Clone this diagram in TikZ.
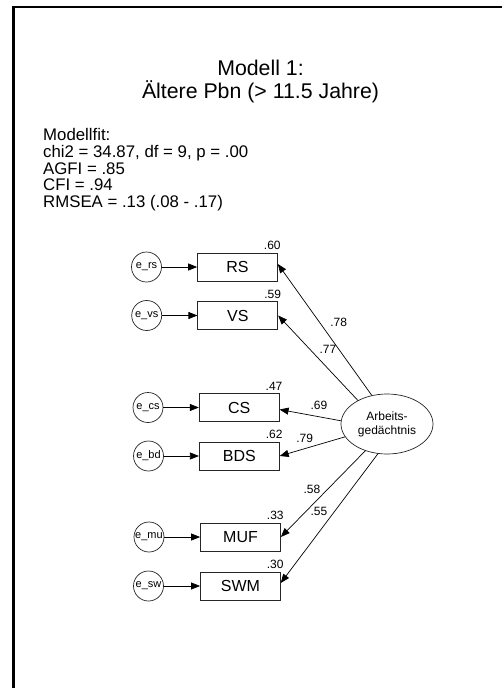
\documentclass[tikz,border=0pt]{standalone}
\usepackage{fontspec}
\setmainfont{Liberation Sans}
\usetikzlibrary{arrows.meta,shapes.geometric}
\begin{document}
\begin{tikzpicture}[x=1pt,y=-1pt,
  obs/.style={draw=black!85,line width=0.7pt,minimum width=80pt,minimum height=28pt,inner sep=0pt,font=\fontsize{16}{18}\selectfont},
  err/.style={draw=black!85,line width=0.7pt,circle,minimum size=30pt,inner sep=0pt,font=\fontsize{11}{12}\selectfont},
  lat/.style={draw=black!85,line width=0.7pt,ellipse,minimum width=92pt,minimum height=60pt,inner sep=0pt,align=center,font=\fontsize{12}{14}\selectfont},
  conn/.style={line width=0.7pt,-{Triangle[length=9pt,width=7pt]}},
  val/.style={inner sep=0pt,font=\fontsize{12}{14}\selectfont},
  fit/.style={inner sep=0pt,anchor=base west,font=\fontsize{16.8}{18}\selectfont},
  ttl/.style={inner sep=0pt,anchor=base,font=\fontsize{21.3}{24}\selectfont}
]
\useasboundingbox (0,0) rectangle (502,688);
\fill[white] (0,0) rectangle (502,688);
\draw[line width=2.5pt] (13.5,689) -- (13.5,7) -- (503,7);

% title
\node[ttl] (t1) at (260.5,75.7) {Modell 1:};
\node[ttl] (t2) at (260.5,98.3) {Ältere Pbn (> 11.5 Jahre)};

% fit
\node[fit] (f1) at (43,140.7) {Modellfit:};
\node[fit] (f2) at (43,157.4) {chi2 = 34.87, df = 9, p = .00};
\node[fit] (f3) at (43,174.1) {AGFI = .85};
\node[fit] (f4) at (43,190.8) {CFI = .94};
\node[fit] (f5) at (43,207.5) {RMSEA = .13 (.08 - .17)};

% observed
\node[obs] (rs) at (237.5,267) {RS};
\node[obs] (vs) at (237.8,315.5) {VS};
\node[obs] (cs) at (239.2,407.5) {CS};
\node[obs] (bds) at (239.3,456) {BDS};
\node[obs] (muf) at (240.5,537) {MUF};
\node[obs] (swm) at (240.4,586) {SWM};

% errors
\node[err] (ers) at (146.5,267) {e\_rs};
\node[err] (evs) at (146.7,315.5) {e\_vs};
\node[err] (ecs) at (148,407.5) {e\_cs};
\node[err] (ebd) at (148.5,456) {e\_bd};
\node[err] (emu) at (149,537) {e\_mu};
\node[err] (esw) at (148.5,586) {e\_sw};

% latent
\node[lat] (ag) at (387,424) {Arbeits-\\gedächtnis};

% error paths
\draw[conn] (ers) -- (rs);
\draw[conn] (evs) -- (vs);
\draw[conn] (ecs) -- (cs);
\draw[conn] (ebd) -- (bds);
\draw[conn] (emu) -- (muf);
\draw[conn] (esw) -- (swm);

% loadings
\draw[conn] (ag.118) -- ([yshift=3pt]rs.east);
\draw[conn] (ag.141) -- (vs.east);
\draw[conn] (ag.176) -- ([yshift=-2pt]cs.east);
\draw[conn] (ag.197) -- (bds.east);
\draw[conn] (ag.231) -- (muf.east);
\draw[conn] (ag.253) -- ([yshift=3pt]swm.east);

% squared multiple correlations
\node[val,anchor=base east] (v1) at ([xshift=3pt,yshift=3pt]rs.north east) {.60};
\node[val,anchor=base east] (v2) at ([xshift=3pt,yshift=3pt]vs.north east) {.59};
\node[val,anchor=base east] (v3) at ([xshift=3pt,yshift=3pt]cs.north east) {.47};
\node[val,anchor=base east] (v4) at ([xshift=3pt,yshift=3pt]bds.north east) {.62};
\node[val,anchor=base east] (v5) at ([xshift=3pt,yshift=3pt]muf.north east) {.33};
\node[val,anchor=base east] (v6) at ([xshift=3pt,yshift=3pt]swm.north east) {.30};

% loading labels
\node[val] (l1) at (338.7,322.5) {.78};
\node[val] (l2) at (328,349.5) {.77};
\node[val] (l3) at (319,405) {.69};
\node[val] (l4) at (304.7,438.5) {.79};
\node[val] (l5) at (312,489) {.58};
\node[val] (l6) at (319,511.3) {.55};
\end{tikzpicture}
\end{document}
